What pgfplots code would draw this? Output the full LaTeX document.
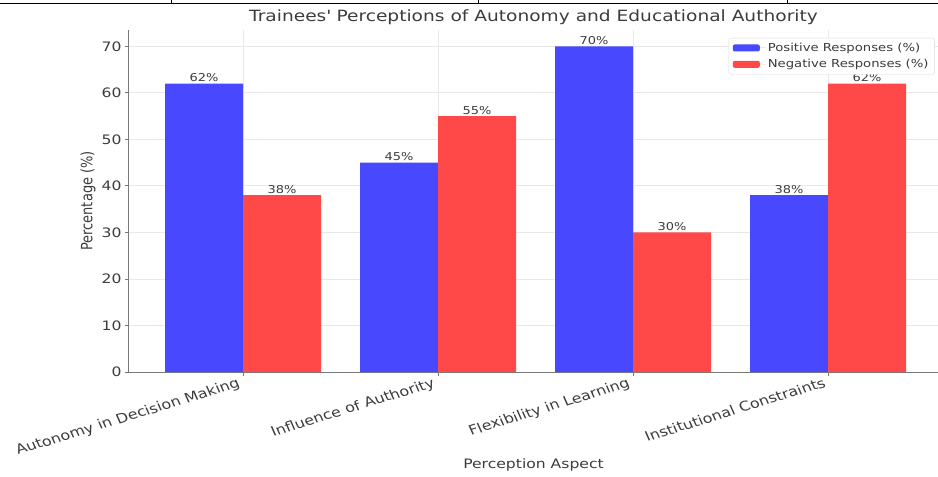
\documentclass[border=0pt]{standalone}
\usepackage{pgfplots}
\pgfplotsset{compat=1.18}
\usepackage{graphicx}
\usepackage{fontspec}
\setmainfont{DejaVu Sans}[FakeStretch=1.2]
\newfontfamily\plainfont{DejaVu Sans}
\definecolor{posblue}{RGB}{72,72,255}
\definecolor{negred}{RGB}{255,72,72}
\definecolor{txt}{RGB}{60,60,60}
\definecolor{spine}{RGB}{120,120,120}
\newcommand{\xtl}[1]{\scalebox{1.2}[1]{\rotatebox{20.2}{\fontsize{13.3}{15}\plainfont #1}}}
\begin{document}
\begin{tikzpicture}
\useasboundingbox (-129pt,-105pt) rectangle (809pt,372pt);
% top border artefact of the reference
\draw[black, line width=1.6pt] (-129pt,368.5pt) -- (809pt,368.5pt);
\foreach \xx in {43,349,658} {\draw[black, line width=1pt] (\xx pt,372pt) -- (\xx pt,368pt);}
\begin{axis}[
  at={(0,0)}, anchor=south west,
  width=809pt, height=342pt, scale only axis,
  xmin=-0.585, xmax=3.564, ymin=0, ymax=73.5,
  ybar=0pt, bar width=0.4,
  axis x line*=bottom, axis y line*=left,
  axis line style={draw=spine, line width=1pt, -},
  xtick={0,1,2,3},
  xticklabels={{\xtl{Autonomy in Decision Making}}, {\xtl{Influence of Authority}}, {\xtl{Flexibility in Learning}}, {\xtl{Institutional Constraints}}},
  ytick={0,10,20,30,40,50,60,70},
  tick align=outside, major tick length=4pt,
  tick style={draw=spine, line width=0.8pt},
  grid=major, major grid style={draw=black!9, line width=0.8pt},
  /pgf/number format/assume math mode=true,
  xticklabel style={anchor=north east, inner sep=1pt, text=txt},
  yticklabel style={font=\fontsize{13}{15}\selectfont, text=txt},
  xlabel={Perception Aspect},
  xlabel style={at={(axis description cs:0.5,-0.272)}, anchor=center, font=\fontsize{13}{15}\selectfont, text=txt},
  every axis y label/.style={at={(axis description cs:-0.0507,0.5)}, anchor=center},
  ylabel={\scalebox{1.2}[1]{\rotatebox{90}{\fontsize{13}{15}\plainfont\color{txt}Percentage (\%)}}},
  title={Trainees\textquotesingle\ Perceptions of Autonomy and Educational Authority},
  every axis title/.style={at={(axis description cs:0.5,1.038)}, anchor=center, font=\fontsize{15.5}{17}\selectfont, text=txt},
  legend style={at={(rel axis cs:0.996,0.977)}, anchor=north east, draw=black!15, rounded corners=2pt, fill=white, font=\fontsize{11}{13}\selectfont, text=txt, row sep=2.5pt, inner xsep=4pt, inner ysep=3pt},
  legend cell align=left,
  legend image code/.code={\fill[#1] (0pt,-3.5pt) rectangle (27pt,3.5pt); \path (0pt,0pt) -- (33pt,0pt);},
  nodes near coords={\pgfmathprintnumber{\pgfplotspointmeta}\%},
  every node near coord/.append style={font=\fontsize{10.8}{12}\selectfont, text=txt, inner sep=1.5pt},
]
\addplot[fill=posblue, draw=none] coordinates {(0,62) (1,45) (2,70) (3,38)};
\addlegendentry{Positive Responses (\%)}
\addplot[fill=negred, draw=none] coordinates {(0,38) (1,55) (2,30) (3,62)};
\addlegendentry{Negative Responses (\%)}
\end{axis}
\end{tikzpicture}
\end{document}
